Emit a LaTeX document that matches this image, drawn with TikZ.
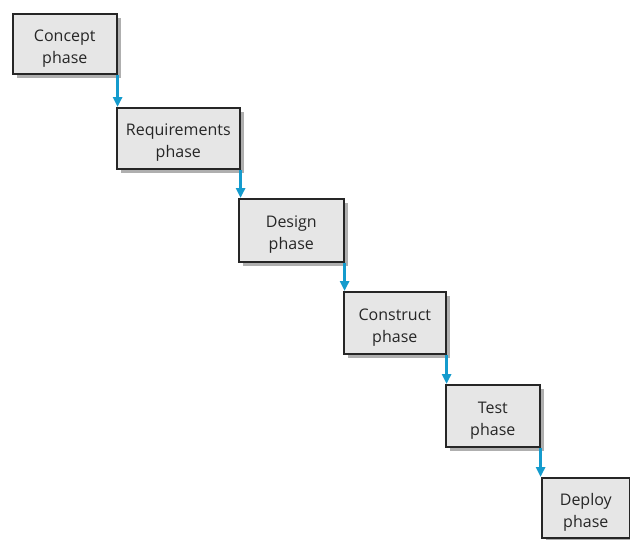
\documentclass[tikz,border=0pt]{standalone}
\usepackage{fontspec}
\setmainfont{Open Sans}
\usetikzlibrary{shadows,arrows.meta}
\definecolor{arrblue}{RGB}{20,155,205}
\definecolor{boxfill}{RGB}{230,230,230}
\definecolor{shadowgray}{RGB}{175,175,175}
\newcommand\phasetext[1]{\raisebox{-4pt}[\height][\depth]{\begin{tabular}{@{}c@{}}#1\\phase\end{tabular}}}
\begin{document}
\begin{tikzpicture}[x=1pt,y=-1pt,
  phasebox/.style={draw=black!85,line width=1.6pt,fill=boxfill,anchor=north west,
    inner sep=0pt,font=\fontsize{16}{22}\selectfont\color{black!85},
    drop shadow={shadow xshift=4pt,shadow yshift=-4pt,fill=shadowgray,opacity=1}},
  flow/.style={draw=arrblue,line width=2.6pt,-{Triangle[length=10pt,width=9pt]}}]
\useasboundingbox (0,0) rectangle (630,539);
\node[phasebox,minimum width=104pt,minimum height=60pt] (c1) at (12,13) {\phasetext{Concept}};
\node[phasebox,minimum width=123pt,minimum height=61pt] (c2) at (116,107) {\phasetext{Requirements}};
\node[phasebox,minimum width=105pt,minimum height=63pt] (c3) at (238,198) {\phasetext{Design}};
\node[phasebox,minimum width=102pt,minimum height=62pt] (c4) at (343,291) {\phasetext{Construct}};
\node[phasebox,minimum width=94pt,minimum height=62pt] (c5) at (445,384) {\phasetext{Test}};
\node[phasebox,minimum width=88pt,minimum height=60pt] (c6) at (541,477) {\phasetext{Deploy}};
\draw[flow] (c1.south east) -- (c1.south east |- c2.north);
\draw[flow] (c2.south east) -- (c2.south east |- c3.north);
\draw[flow] (c3.south east) -- (c3.south east |- c4.north);
\draw[flow] (c4.south east) -- (c4.south east |- c5.north);
\draw[flow] (c5.south east) -- (c5.south east |- c6.north);
\end{tikzpicture}
\end{document}
